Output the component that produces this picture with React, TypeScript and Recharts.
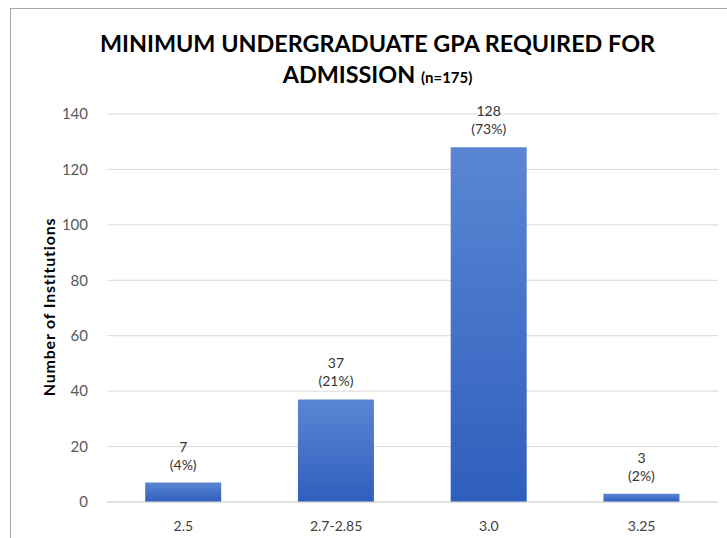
import { BarChart, Bar, XAxis, YAxis, CartesianGrid, LabelList } from 'recharts'

const categories = ['2.5', '2.7-2.85', '3.0', '3.25']
const counts = [7, 37, 128, 3]
const shares = ['4%', '21%', '73%', '2%']
const yTicks = [0, 20, 40, 60, 80, 100, 120, 140]

const data = categories.map((gpa, i) => ({ gpa, count: counts[i], share: shares[i] }))

const FONT = 'Lato, "Open Sans", sans-serif'

const TwoLineLabel = ({ x, y, width, index }: any) => {
  const cx = x + width / 2
  return (
    <text x={cx} y={y - 31} textAnchor='middle' fill='#333' fontSize={14} fontFamily={FONT}>
      <tspan x={cx} dy={0}>{counts[index]}</tspan>
      <tspan x={cx} dy={18}>({shares[index]})</tspan>
    </text>
  )
}

export default function App() {
  return (
    <div style={{ position: 'absolute', left: 0, top: 0, width: 727, height: 538, background: '#fff', overflow: 'hidden' }}>
      {/* outer frame */}
      <div style={{
        position: 'absolute', left: 10, top: 8, width: 760, height: 600,
        borderTop: '1px solid #a6a6a6', borderLeft: '1px solid #a6a6a6',
      }} />
      <div style={{
        position: 'absolute', left: 0, top: 28, width: 755, textAlign: 'center',
        fontFamily: FONT, fontWeight: 700, fontSize: 23.4, color: '#000', lineHeight: '31px',
      }}>
        MINIMUM UNDERGRADUATE GPA REQUIRED FOR<br />
        ADMISSION <span style={{ fontSize: 15 }}>(n=175)</span>
      </div>
      <div style={{
        position: 'absolute', left: 48, top: 307, transform: 'translate(-50%, -50%) rotate(-90deg)',
        fontFamily: FONT, fontWeight: 700, fontSize: 16, letterSpacing: 0.8, color: '#000', whiteSpace: 'nowrap',
      }}>
        Number of Institutions
      </div>
      <div style={{ position: 'absolute', left: 0, top: 0 }}>
        <BarChart
          width={727}
          height={538}
          data={data}
          margin={{ top: 114, right: 9, bottom: 0, left: 0 }}
          barCategoryGap='25%'
        >
          <defs>
            <linearGradient id='barFill' x1='0' y1='0' x2='0' y2='1'>
              <stop offset='0%' stopColor='#5b86d4' />
              <stop offset='100%' stopColor='#2f5fbd' />
            </linearGradient>
          </defs>
          <CartesianGrid vertical={false} stroke='#d9d9d9' />
          <XAxis
            dataKey='gpa'
            height={36}
            tickLine={false}
            axisLine={{ stroke: '#d9d9d9' }}
            tick={{ fontSize: 14, fill: '#404040', fontFamily: FONT }}
            tickMargin={13}
          />
          <YAxis
            width={107}
            domain={[0, 140]}
            ticks={yTicks}
            tickLine={false}
            axisLine={false}
            tick={{ fontSize: 15, fill: '#595959', fontFamily: FONT }}
            tickMargin={13}
          />
          <Bar dataKey='count' fill='url(#barFill)' isAnimationActive={false}>
            <LabelList dataKey='count' content={<TwoLineLabel />} />
          </Bar>
        </BarChart>
      </div>
    </div>
  )
}
